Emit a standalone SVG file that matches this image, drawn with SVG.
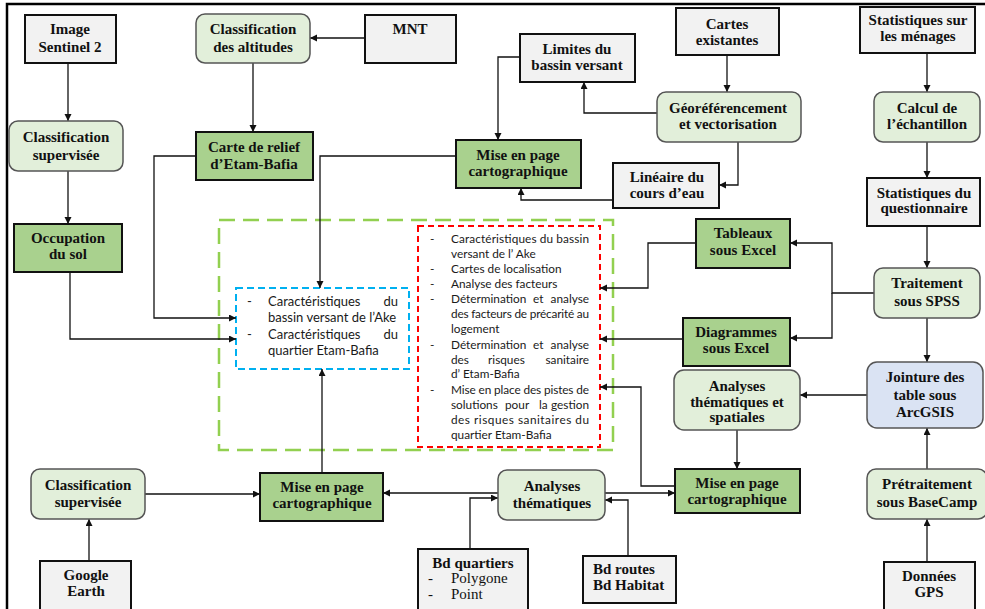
<svg xmlns="http://www.w3.org/2000/svg" width="985" height="609" viewBox="0 0 985 609">
<defs>
<marker id="ah" markerUnits="userSpaceOnUse" markerWidth="8" markerHeight="8" refX="7" refY="3.5" orient="auto">
<path d="M0,0 L7,3.5 L0,7 z" fill="#111"/>
</marker>
<style>
.g{fill:#f2f2f2;stroke:#111;stroke-width:2}
.lg{fill:#e2efda;stroke:#555;stroke-width:1.5}
.dg{fill:#a9d18e;stroke:#111;stroke-width:2}
.bl{fill:#dae3f3;stroke:#555;stroke-width:1.5}
.t{font-family:"Liberation Serif","Times New Roman",serif;font-weight:bold;font-size:15px;fill:#111;text-anchor:middle}
.ts{font-family:"Liberation Serif","Times New Roman",serif;font-weight:bold;font-size:15px;fill:#111}
.tr{font-family:"Liberation Serif","Times New Roman",serif;font-size:15px;fill:#111}
.c path{fill:none;stroke:#111;stroke-width:1.3;marker-end:url(#ah)}
.bt{font-family:Lato,"Noto Sans",sans-serif;font-size:13px;fill:#1a1a1a}
.rt{font-family:Lato,"Noto Sans",sans-serif;font-size:11.8px;fill:#1a1a1a}
.e{text-anchor:end}
</style>
</defs>
<rect width="985" height="609" fill="#fff"/>
<path d="M7,609 V4 H985" fill="none" stroke="#000" stroke-width="2.5"/>

<g id="containers">
<rect x="219" y="220" width="394" height="230" fill="none" stroke="#92d050" stroke-width="2.5" stroke-dasharray="16 8"/>
<rect x="418" y="226" width="182" height="221" fill="none" stroke="#ff0000" stroke-width="2" stroke-dasharray="6 4"/>
<rect x="236" y="288" width="173" height="81" fill="none" stroke="#00b0f0" stroke-width="2" stroke-dasharray="7 4"/>
</g>

<g id="blue-text" class="bt">
<text x="247" y="306">-</text><text x="268" y="306">Caractéristiques</text><text x="398" y="306" class="e">du</text>
<text x="268" y="322">bassin versant de l’Ake</text>
<text x="247" y="339">-</text><text x="268" y="339">Caractéristiques</text><text x="398" y="339" class="e">du</text>
<text x="268" y="355">quartier Etam-Bafia</text>
</g>

<g id="red-text" class="rt">
<text x="430" y="243">-</text><text x="451" y="243" textLength="138" lengthAdjust="spacing">Caractéristiques du bassin</text>
<text x="451" y="258">versant de l’ Ake</text>
<text x="430" y="273">-</text><text x="451" y="273">Cartes de localisation</text>
<text x="430" y="288">-</text><text x="451" y="288">Analyse des facteurs</text>
<text x="430" y="303">-</text><text x="451" y="303">Détermination</text><text x="533" y="303">et</text><text x="589" y="303" class="e">analyse</text>
<text x="451" y="318" textLength="138" lengthAdjust="spacing">des facteurs de précarité au</text>
<text x="451" y="333">logement</text>
<text x="430" y="349">-</text><text x="451" y="349">Détermination</text><text x="533" y="349">et</text><text x="589" y="349" class="e">analyse</text>
<text x="451" y="364">des</text><text x="488" y="364">risques</text><text x="589" y="364" class="e">sanitaire</text>
<text x="451" y="378">d’ Etam-Bafia</text>
<text x="430" y="394">-</text><text x="451" y="394" textLength="138" lengthAdjust="spacing">Mise en place des pistes de</text>
<text x="451" y="409">solutions</text><text x="505" y="409">pour</text><text x="539" y="409">la</text><text x="589" y="409" class="e">gestion</text>
<text x="451" y="424" textLength="138" lengthAdjust="spacing">des risques sanitaires du</text>
<text x="451" y="439">quartier Etam-Bafia</text>
</g>

<g id="connectors" class="c">
<path d="M68,63 V121"/>
<path d="M68,171 V224"/>
<path d="M365,38 H310"/>
<path d="M253,63 V132"/>
<path d="M196,156 H154 V318 H236"/>
<path d="M70,272 V339 H236"/>
<path d="M456,156 H320 V288"/>
<path d="M520,57 H498 V140"/>
<path d="M727,55 V92"/>
<path d="M657,113 H584 V82"/>
<path d="M738,142 V185 H719"/>
<path d="M613,200 H521 V188"/>
<path d="M927,53 V92"/>
<path d="M927,142 V178"/>
<path d="M927,226 V268"/>
<path d="M874,293 H832 V243 H790"/>
<path d="M832,293 V338 H790"/>
<path d="M696,243 H648 V288 H600"/>
<path d="M683,339 H600"/>
<path d="M927,318 V362"/>
<path d="M867,395 H800"/>
<path d="M737,430 V469"/>
<path d="M675,486 H641 V387 H600"/>
<path d="M927,469 V428"/>
<path d="M927,562 V519"/>
<path d="M605,493 H675"/>
<path d="M498,493 H383"/>
<path d="M470,549 V498 H498"/>
<path d="M628,556 V500 H605"/>
<path d="M145,494 H260"/>
<path d="M89,561 V519"/>
<path d="M322,473 V369"/>
</g>

<g id="image-sentinel"><rect class="g" x="25" y="15" width="91" height="48"/><text class="t" x="70" y="34">Image</text><text class="t" x="70" y="52">Sentinel 2</text></g>
<g id="classif-sup-top"><rect class="lg" x="9" y="121" width="114" height="50" rx="9"/><text class="t" x="66" y="142">Classification</text><text class="t" x="66" y="160">supervisée</text></g>
<g id="occupation"><rect class="dg" x="14" y="224" width="108" height="48"/><text class="t" x="68" y="243">Occupation</text><text class="t" x="68" y="259">du sol</text></g>
<g id="classif-alt"><rect class="lg" x="196" y="14" width="114" height="49" rx="9"/><text class="t" x="253" y="34">Classification</text><text class="t" x="253" y="52">des altitudes</text></g>
<g id="mnt"><rect class="g" x="365" y="15" width="91" height="48"/><text class="t" x="410" y="34">MNT</text></g>
<g id="carte-relief"><rect class="dg" x="196" y="132" width="117" height="48"/><text class="t" x="254" y="152">Carte de relief</text><text class="t" x="254" y="169">d’Etam-Bafia</text></g>
<g id="mise-top"><rect class="dg" x="456" y="140" width="125" height="48"/><text class="t" x="518" y="160">Mise en page</text><text class="t" x="518" y="176">cartographique</text></g>
<g id="limites"><rect class="g" x="520" y="34" width="115" height="48"/><text class="t" x="577" y="54">Limites du</text><text class="t" x="577" y="70">bassin versant</text></g>
<g id="cartes-exist"><rect class="g" x="676" y="8" width="103" height="47"/><text class="t" x="727" y="29">Cartes</text><text class="t" x="727" y="45">existantes</text></g>
<g id="georef"><rect class="lg" x="657" y="92" width="144" height="50" rx="9"/><text class="t" x="728" y="113">Géoréférencement</text><text class="t" x="728" y="129">et vectorisation</text></g>
<g id="lineaire"><rect class="g" x="613" y="163" width="106" height="45"/><text class="t" x="667" y="182">Linéaire du</text><text class="t" x="667" y="198">cours d’eau</text></g>
<g id="stat-menages"><rect class="g" x="860" y="7" width="115" height="46"/><text class="t" x="918" y="25">Statistiques sur</text><text class="t" x="918" y="41">les ménages</text></g>
<g id="calcul"><rect class="lg" x="874" y="92" width="106" height="50" rx="9"/><text class="t" x="927" y="113">Calcul de</text><text class="t" x="927" y="129">l’échantillon</text></g>
<g id="stat-quest"><rect class="g" x="867" y="178" width="113" height="48"/><text class="t" x="924" y="198">Statistiques du</text><text class="t" x="924" y="213">questionnaire</text></g>
<g id="tableaux"><rect class="dg" x="696" y="219" width="94" height="49"/><text class="t" x="743" y="238">Tableaux</text><text class="t" x="743" y="255">sous Excel</text></g>
<g id="traitement"><rect class="lg" x="874" y="268" width="106" height="50" rx="9"/><text class="t" x="927" y="288">Traitement</text><text class="t" x="927" y="306">sous SPSS</text></g>
<g id="diagrammes"><rect class="dg" x="683" y="318" width="107" height="48"/><text class="t" x="736" y="337">Diagrammes</text><text class="t" x="736" y="353">sous Excel</text></g>
<g id="analyses-spat"><rect class="lg" x="674" y="370" width="126" height="60" rx="10"/><text class="t" x="737" y="391">Analyses</text><text class="t" x="737" y="407">thématiques et</text><text class="t" x="737" y="422">spatiales</text></g>
<g id="jointure"><rect class="bl" x="867" y="362" width="116" height="66" rx="10"/><text class="t" x="925" y="382">Jointure des</text><text class="t" x="925" y="400">table sous</text><text class="t" x="925" y="417">ArcGSIS</text></g>
<g id="mise-br"><rect class="dg" x="675" y="469" width="125" height="44"/><text class="t" x="737" y="488">Mise en page</text><text class="t" x="737" y="504">cartographique</text></g>
<g id="pretraitement"><rect class="lg" x="867" y="469" width="120" height="50" rx="9"/><text class="t" x="927" y="489">Prétraitement</text><text class="t" x="927" y="507">sous BaseCamp</text></g>
<g id="gps"><rect class="g" x="884" y="562" width="91" height="52"/><text class="t" x="929" y="581">Données</text><text class="t" x="929" y="597">GPS</text></g>
<g id="analyses-them"><rect class="lg" x="498" y="470" width="107" height="50" rx="9"/><text class="t" x="552" y="491">Analyses</text><text class="t" x="552" y="508">thématiques</text></g>
<g id="mise-mid"><rect class="dg" x="260" y="473" width="123" height="48"/><text class="t" x="322" y="492">Mise en page</text><text class="t" x="322" y="508">cartographique</text></g>
<g id="classif-sup-bottom"><rect class="lg" x="31" y="469" width="114" height="50" rx="9"/><text class="t" x="88" y="490">Classification</text><text class="t" x="88" y="507">supervisée</text></g>
<g id="google-earth"><rect class="g" x="40" y="561" width="91" height="53"/><text class="t" x="86" y="580">Google</text><text class="t" x="86" y="596">Earth</text></g>
<g id="bd-quartiers"><rect class="g" x="418" y="549" width="110" height="65"/><text class="t" x="473" y="568">Bd quartiers</text><text class="tr" x="428" y="583">-</text><text class="tr" x="451" y="583">Polygone</text><text class="tr" x="428" y="599">-</text><text class="tr" x="451" y="599">Point</text></g>
<g id="bd-routes"><rect class="g" x="583" y="556" width="93" height="47"/><text class="ts" x="593" y="574">Bd routes</text><text class="ts" x="593" y="590">Bd Habitat</text></g>
</svg>
